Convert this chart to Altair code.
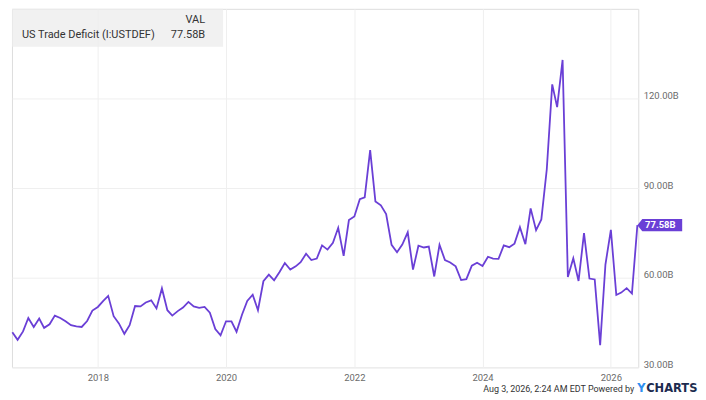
import altair as alt
import pandas as pd

# ---- data -------------------------------------------------------------
start_month = "2016-09-01"
values = [
    41.7, 39.2, 42.0, 46.5, 43.5, 46.3, 43.2, 44.4, 47.3, 46.5,
    45.4, 44.1, 43.7, 43.5, 45.5, 49.0, 50.2, 52.2, 53.9, 47.1,
    44.7, 41.2, 44.1, 50.5, 50.4, 51.7, 52.4, 49.7, 56.4, 49.1,
    47.3, 48.8, 50.0, 51.9, 50.4, 49.9, 50.2, 48.3, 42.8, 40.7,
    45.4, 45.4, 41.9, 47.6, 52.2, 54.3, 49.1, 58.8, 61.0, 59.1,
    61.9, 64.9, 62.7, 63.8, 65.2, 68.0, 65.9, 66.4, 70.8, 69.4,
    71.7, 76.7, 67.3, 79.3, 80.5, 86.3, 86.9, 102.7, 85.5, 84.2,
    81.3, 71.0, 68.5, 71.1, 75.2, 62.7, 70.7, 70.1, 70.4, 60.4,
    71.0, 65.9, 65.1, 63.8, 59.2, 59.5, 64.0, 65.0, 63.9, 67.0,
    66.4, 66.3, 70.8, 70.2, 71.4, 76.9, 71.2, 83.2, 75.9, 79.5,
    96.3, 124.7, 117.1, 132.9, 60.2, 66.5, 58.9, 74.9, 59.7, 59.4,
    37.4, 64.4, 76.0, 54.2, 55.0, 56.5, 54.7, 77.58,
]
dates = pd.date_range(start_month, periods=len(values), freq="MS").strftime("%Y-%m-%d").tolist()
y_ticks = [30, 60, 90, 120]
x_tick_years = [2018, 2020, 2022, 2024, 2026]
series_name = "US Trade Deficit (I:USTDEF)"
legend_header = "VAL"
last_label = "77.58B"
footer_text = "Aug 3, 2026, 2:24 AM EDT Powered by"

df = pd.DataFrame({"date": dates, "value": values})
last_df = df.tail(1).assign(label=last_label)

PURPLE = "#6a3fd6"
FONT = "Roboto"
GRAY = "#6b6b6b"

x_scale = alt.Scale(
    type="utc",
    domain=[alt.DateTime(year=2016, month=8, date=30, utc=True),
            alt.DateTime(year=2026, month=6, date=6, utc=True)],
    nice=False,
)
y_scale = alt.Scale(domain=[30, 150], nice=False, zero=False)

x_enc = alt.X(
    "date:T",
    scale=x_scale,
    axis=alt.Axis(
        values=[alt.DateTime(year=y, month=1, date=1, utc=True) for y in x_tick_years],
        labelExpr="utcFormat(datum.value, '%Y')",
        title=None, domain=False, ticks=False, labelPadding=5,
        labelColor=GRAY, labelFont=FONT, labelFontSize=9.5,
        gridColor="#efefef", labelBaseline="top",
    ),
)
y_enc = alt.Y(
    "value:Q",
    scale=y_scale,
    axis=alt.Axis(
        orient="right", values=y_ticks,
        labelExpr="format(datum.value, '.2f') + 'B'",
        title=None, domain=False, ticks=False, labelPadding=5,
        labelColor=GRAY, labelFont=FONT, labelFontSize=9.5,
        labelAlign="left", labelBaseline="alphabetic",
        gridColor="#efefef",
    ),
)

line = alt.Chart(df).mark_line(color=PURPLE, strokeWidth=1.8).encode(x=x_enc, y=y_enc)

tag_shape = "M0,0 L0.22,-0.27 L2,-0.27 L2,0.27 L0.22,0.27 Z"
tag = alt.Chart(last_df).mark_point(
    shape=tag_shape, size=2025, filled=True, fill=PURPLE, opacity=1, strokeWidth=0
).encode(x="date:T", y="value:Q")
tag_text = alt.Chart(last_df).mark_text(
    color="white", font=FONT, fontSize=9.5, fontWeight="bold", dx=23, align="center", baseline="middle"
).encode(x="date:T", y="value:Q", text="label:N")

# legend box (top-left)
box = alt.Chart(pd.DataFrame({"k": [0]})).mark_rect(color="#ececec", opacity=0.75).encode(
    x=alt.value(0), x2=alt.value(212), y=alt.value(0), y2=alt.value(38)
)
hdr = alt.Chart(pd.DataFrame({"t": [legend_header]})).mark_text(
    font=FONT, fontSize=11, color="#333333", align="right", baseline="middle"
).encode(x=alt.value(194), y=alt.value(11), text="t:N")
name_t = alt.Chart(pd.DataFrame({"t": [series_name]})).mark_text(
    font=FONT, fontSize=11, color="#333333", align="left", baseline="middle"
).encode(x=alt.value(10), y=alt.value(26), text="t:N")
val_t = alt.Chart(pd.DataFrame({"t": [last_label]})).mark_text(
    font=FONT, fontSize=11, color="#333333", align="right", baseline="middle"
).encode(x=alt.value(194), y=alt.value(26), text="t:N")

# footer
foot = alt.Chart(pd.DataFrame({"t": [footer_text]})).mark_text(
    font=FONT, fontSize=9, color="#333333", align="right", baseline="middle"
).encode(x=alt.value(625), y=alt.value(382), text="t:N")
logo_y = alt.Chart(pd.DataFrame({"t": ["Y"]})).mark_text(
    font="DejaVu Sans", fontSize=11.5, fontWeight="bold", color="#2e8ff0", align="left", baseline="middle"
).encode(x=alt.value(628), y=alt.value(382), text="t:N")
logo_c = alt.Chart(pd.DataFrame({"t": ["CHARTS"]})).mark_text(
    font="DejaVu Sans", fontSize=11.5, fontWeight="bold", color="#1d2b4f", align="left", baseline="middle"
).encode(x=alt.value(637), y=alt.value(382), text="t:N")

chart = alt.layer(
    box, line, tag, tag_text, hdr, name_t, val_t, foot, logo_y, logo_c
).properties(
    width=629, height=360, padding=0,
).configure_view(
    stroke="#e4e4e4", strokeWidth=1,
).configure(background="white")

chart.save("out.html", embed_options={"renderer": "svg", "actions": False})
